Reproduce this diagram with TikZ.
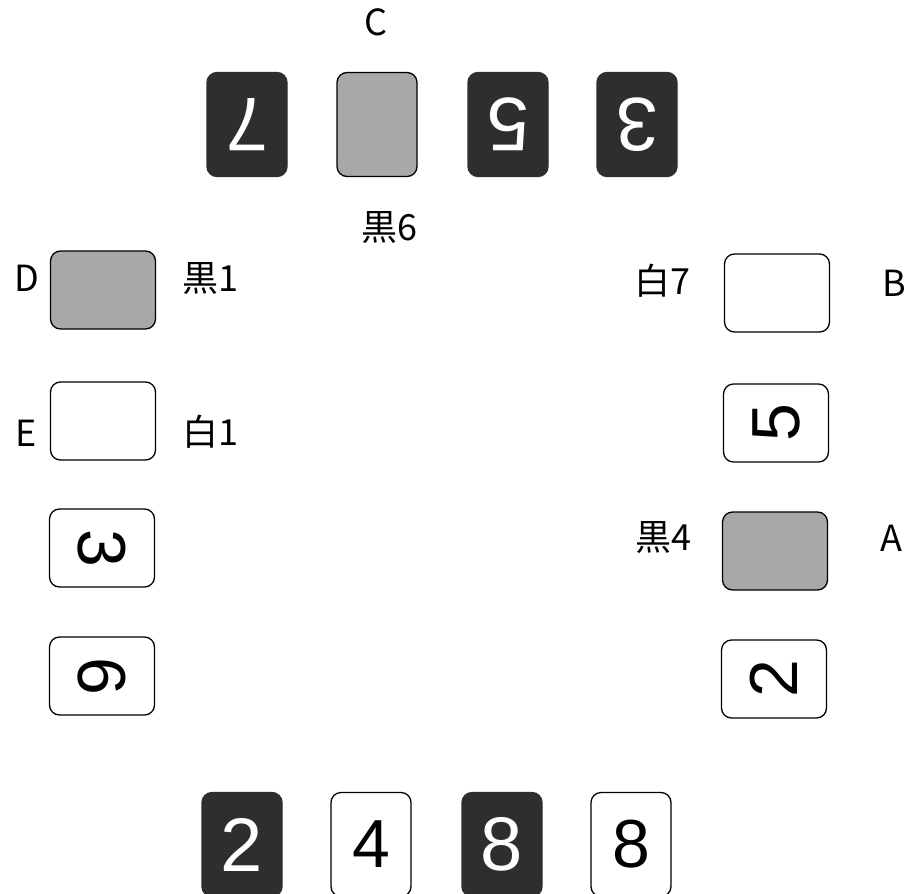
\documentclass[tikz,border=0pt]{standalone}
\usepackage{fontspec}
\setmainfont{Liberation Sans}
\newfontfamily\jp{Noto Sans CJK JP}
\definecolor{darkc}{HTML}{2E2E2E}
\definecolor{grayf}{HTML}{A8A8A8}
\begin{document}
\begin{tikzpicture}[x=1pt,y=-1pt,
  card/.style={draw=black, line width=1.3pt, rounded corners=10pt, inner sep=0pt},
  dark/.style={card, fill=darkc, draw=darkc},
  grayc/.style={card, fill=grayf},
  whitec/.style={card, fill=white},
  portrait/.style={minimum width=80pt, minimum height=104pt},
  landscape/.style={minimum width=105pt, minimum height=78pt},
  lbl/.style={font=\jp\fontsize{36}{36}\selectfont, inner sep=0pt},
  dgw/.style={font=\fontsize{76}{76}\selectfont, inner sep=0pt, text=white},
  dgb/.style={font=\fontsize{68}{68}\selectfont, inner sep=0pt, text=black},
]
\clip (0,0) rectangle (913,894);
\useasboundingbox (0,0) rectangle (913,894);

% top row (rotated 180)
\node[dark, portrait] (t1) at (247,124.5) {};
\node[grayc, portrait] (t2) at (377,124.5) {};
\node[dark, portrait] (t3) at (508,124.5) {};
\node[dark, portrait] (t4) at (637,124.5) {};
\node[dgw, rotate=180] (t1d) at (t1.center) {7};
\node[dgw, rotate=180] (t3d) at (t3.center) {5};
\node[dgw, rotate=180] (t4d) at (t4.center) {3};

% bottom row
\node[dark, portrait] (b1) at (242,844.5) {};
\node[whitec, portrait] (b2) at (371,844.5) {};
\node[dark, portrait] (b3) at (502,844.5) {};
\node[whitec, portrait] (b4) at (631,844.5) {};
\node[dgw] (b1d) at (b1.center) {2};
\node[dgb] (b2d) at (b2.center) {4};
\node[dgw] (b3d) at (b3.center) {8};
\node[dgb] (b4d) at (b4.center) {8};

% left column
\node[grayc, landscape] (l1) at (103,290) {};
\node[whitec, landscape] (l2) at (103,421) {};
\node[whitec, landscape] (l3) at (102,548) {};
\node[whitec, landscape] (l4) at (102,676) {};
\node[dgb, rotate=-90] (l3d) at (l3.center) {3};
\node[dgb, rotate=-90] (l4d) at (l4.center) {6};

% right column
\node[whitec, landscape] (r1) at (777,293) {};
\node[whitec, landscape] (r2) at (776,423) {};
\node[grayc, landscape] (r3) at (775,551) {};
\node[whitec, landscape] (r4) at (774,679) {};
\node[dgb, rotate=90] (r2d) at (r2.center) {5};
\node[dgb, rotate=90] (r4d) at (r4.center) {2};

% labels
\node[lbl] (labC) at (376,22) {C};
\node[lbl] (lab6) at (389,228) {黒6};
\node[lbl] (labD) at (27,278) {D};
\node[lbl] (lab1) at (210,279) {黒1};
\node[lbl] (labE) at (26,433) {E};
\node[lbl] (labw1) at (210,432) {白1};
\node[lbl] (labw7) at (662,281) {白7};
\node[lbl] (labB) at (894,283) {B};
\node[lbl] (lab4) at (663,537) {黒4};
\node[lbl] (labA) at (891,538) {A};
\end{tikzpicture}
\end{document}
